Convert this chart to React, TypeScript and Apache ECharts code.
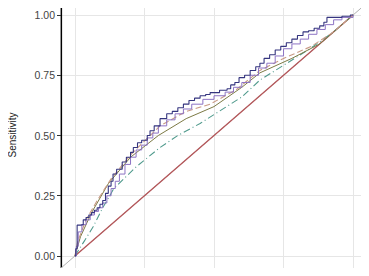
import React, { useEffect, useRef } from "react";
import * as echarts from "echarts";

const yTicks = [0, 0.25, 0.5, 0.75, 1];
const xTicks = [0, 0.25, 0.5, 0.75, 1];
const yTitle = "Sensitivity";

// Main ROC (dark navy, step)
const rocMainX = [0, 0.003, 0.008, 0.02, 0.03, 0.04, 0.05, 0.06, 0.07, 0.08, 0.09, 0.1, 0.11, 0.12, 0.13, 0.137, 0.15, 0.17, 0.185, 0.2, 0.21, 0.225, 0.24, 0.26, 0.27, 0.285, 0.306, 0.33, 0.35, 0.37, 0.39, 0.41, 0.43, 0.45, 0.47, 0.486, 0.52, 0.547, 0.56, 0.575, 0.59, 0.61, 0.63, 0.65, 0.665, 0.68, 0.7, 0.72, 0.74, 0.76, 0.78, 0.8, 0.82, 0.84, 0.86, 0.88, 0.895, 0.906, 0.93, 0.96, 0.99, 1];
const rocMainY = [0, 0.03, 0.128, 0.13, 0.15, 0.16, 0.17, 0.18, 0.19, 0.2, 0.215, 0.23, 0.26, 0.29, 0.31, 0.34, 0.36, 0.39, 0.41, 0.43, 0.45, 0.47, 0.48, 0.5, 0.52, 0.54, 0.57, 0.59, 0.6, 0.615, 0.63, 0.645, 0.655, 0.665, 0.67, 0.678, 0.688, 0.694, 0.71, 0.72, 0.74, 0.75, 0.77, 0.785, 0.8, 0.82, 0.835, 0.855, 0.87, 0.885, 0.9, 0.915, 0.93, 0.935, 0.945, 0.955, 0.97, 0.99, 0.99, 0.995, 1, 1];

// Second ROC (violet, step)
const rocVioletX = [0, 0.005, 0.012, 0.025, 0.04, 0.055, 0.07, 0.085, 0.1, 0.115, 0.13, 0.145, 0.16, 0.18, 0.2, 0.22, 0.24, 0.26, 0.28, 0.3, 0.33, 0.36, 0.39, 0.42, 0.46, 0.5, 0.54, 0.57, 0.6, 0.63, 0.66, 0.69, 0.72, 0.75, 0.78, 0.81, 0.84, 0.87, 0.9, 0.93, 0.96, 1];
const rocVioletY = [0, 0.04, 0.1, 0.13, 0.15, 0.17, 0.185, 0.2, 0.22, 0.25, 0.28, 0.31, 0.34, 0.38, 0.41, 0.44, 0.46, 0.49, 0.51, 0.54, 0.565, 0.59, 0.61, 0.63, 0.65, 0.665, 0.68, 0.7, 0.72, 0.75, 0.78, 0.8, 0.83, 0.86, 0.88, 0.9, 0.92, 0.94, 0.96, 0.98, 0.99, 1];

// Tan dashed curve
const tanX = [0, 0.01, 0.04, 0.08, 0.13, 0.2, 0.306, 0.4, 0.486, 0.58, 0.665, 0.75, 0.85, 0.93, 1];
const tanY = [0, 0.06, 0.15, 0.23, 0.32, 0.42, 0.54, 0.6, 0.63, 0.69, 0.77, 0.82, 0.87, 0.93, 1];

// Olive curve
const oliveX = [0, 0.02, 0.06, 0.12, 0.2, 0.3, 0.4, 0.5, 0.6, 0.665, 0.78, 0.88, 0.95, 1];
const oliveY = [0, 0.08, 0.18, 0.3, 0.41, 0.5, 0.57, 0.62, 0.7, 0.76, 0.82, 0.88, 0.95, 1];

// Teal dash-dot curve
const tealX = [0, 0.036, 0.065, 0.1, 0.14, 0.22, 0.306, 0.37, 0.45, 0.6, 0.665, 0.845, 0.93, 1];
const tealY = [0, 0.066, 0.12, 0.2, 0.28, 0.37, 0.45, 0.5, 0.55, 0.66, 0.73, 0.86, 0.93, 1];

// Reference lines
const redX = [0, 1];
const redY = [0, 1];
const diagX = [-0.05, 1.05];
const diagY = [-0.05, 1.05];

const zip = (xs: number[], ys: number[]) => xs.map((x, i) => [x, ys[i]]);

export default function App() {
  const ref = useRef<HTMLDivElement>(null);
  useEffect(() => {
    if (!ref.current) return;
    const chart = echarts.init(ref.current, null, { renderer: "svg" });
    const lineSeries = (data: number[][], color: string, width: number, type: any, step?: any, z = 3) => ({
      type: "line",
      data,
      showSymbol: false,
      symbol: "none",
      step: step || false,
      lineStyle: { color, width, type },
      z,
      silent: true,
    });
    chart.setOption({
      animation: false,
      graphic: [
        {
          type: "text",
          x: 12,
          y: 135,
          rotation: Math.PI / 2,
          style: {
            text: yTitle,
            align: "center",
            verticalAlign: "middle",
            fontFamily: "Liberation Sans",
            fontSize: 10,
            fill: "#222",
          },
        },
      ],
      grid: {
        left: 61,
        top: 2,
        right: 2,
        bottom: 7,
        show: true,
        borderColor: "#8a8a8a",
        borderWidth: 1.5,
        outerBoundsMode: "none",
        containLabel: false,
      },
      xAxis: {
        type: "value",
        min: -0.05,
        max: 1.05,
        axisLine: { show: true, onZero: false, lineStyle: { color: "#000", width: 1.2 } },
        axisTick: { show: true, customValues: xTicks, length: 4, lineStyle: { color: "#333" } },
        axisLabel: { show: false, customValues: xTicks },
        splitLine: { show: true, lineStyle: { color: "#e6e6e6", width: 1 } },
      },
      yAxis: {
        type: "value",
        min: -0.054,
        max: 1.054,
        axisLine: { show: true, onZero: false, lineStyle: { color: "#000", width: 1.2 } },
        axisTick: { show: true, customValues: yTicks, length: 4, lineStyle: { color: "#333" } },
        axisLabel: {
          customValues: yTicks,
          formatter: (v: number) => v.toFixed(2),
          fontFamily: "Liberation Sans",
          fontSize: 10.5,
          color: "#444",
          margin: 6,
        },
        splitLine: { show: true, lineStyle: { color: "#e6e6e6", width: 1 } },
      },
      series: [
        lineSeries(zip(diagX, diagY), "#b0b0b0", 1, "solid", false, 1),
        lineSeries(zip(redX, redY), "#b5575a", 1.3, "solid", false, 2),
        lineSeries(zip(tealX, tealY), "#4f9a8c", 1.1, [7, 3, 1, 3]),
        lineSeries(zip(oliveX, oliveY), "#7d7a45", 1, "solid"),
        lineSeries(zip(tanX, tanY), "#c99a85", 1.1, [6, 3]),
        lineSeries(zip(rocVioletX, rocVioletY), "#8d73c4", 1, "solid", "end", 4),
        lineSeries(zip(rocMainX, rocMainY), "#35357f", 1.1, "solid", "end", 5),
      ],
    });
    return () => chart.dispose();
  }, []);
  return <div ref={ref} style={{ width: 369, height: 276, margin: -8 }} />;
}
